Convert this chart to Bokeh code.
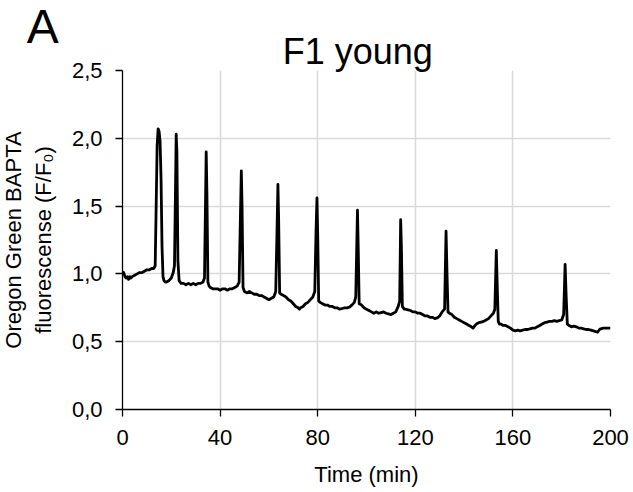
from bokeh.plotting import figure
from bokeh.models import Range1d, FixedTicker, Title
from bokeh.embed import file_html
from bokeh.resources import INLINE

# ---- data ----
time_min = [0, 0.5, 1, 1.5, 2, 2.5, 3, 3.5, 4, 5, 6, 7, 8, 9, 10, 11, 12, 12.8, 13.4, 13.8, 14.2, 14.6,
            15.0, 15.4, 15.8, 16.2, 16.6, 17.0, 17.5, 18, 19, 20, 20.8, 21.3, 21.7, 22.0, 22.3, 22.7, 23.2,
            24, 25, 26, 27, 28, 29, 30, 31, 32, 33, 33.6, 34.0, 34.3, 34.6, 35.0, 35.5, 36, 37, 38, 39, 40,
            41, 42, 43, 44, 45, 46, 47, 47.8, 48.3, 48.7, 49.0, 49.4, 50, 51, 52, 53, 54, 55, 56, 57, 58,
            59, 60, 61, 62, 62.8, 63.3, 63.7, 64.0, 64.4, 65, 66, 67, 68, 69, 70, 71, 72, 72.5, 73, 74, 75,
            76, 77, 78, 78.8, 79.3, 79.7, 80.0, 80.4, 81, 82, 83, 84, 85, 86, 87, 88, 89, 90, 91, 92, 93,
            94, 95, 95.6, 96.0, 96.3, 96.6, 97.0, 98, 99, 100, 101, 102, 103, 104, 105, 106, 107, 108, 109,
            110, 111, 112, 113, 113.6, 114.0, 114.3, 114.7, 115.5, 116, 117, 118, 119, 120, 121, 122, 123,
            124, 125, 126, 127, 128, 129, 130, 131, 132, 132.6, 133.0, 133.4, 134, 135, 136, 137, 138, 139,
            140, 141, 142, 143, 143.7, 144.5, 145, 146, 147, 148, 149, 150, 151, 152, 152.6, 153.2, 153.6,
            154.0, 154.5, 155, 156, 157, 158, 159, 160, 161, 162, 163, 164, 165, 166, 167, 168, 169, 170,
            171, 172, 173, 174, 175, 176, 177, 178, 179, 180, 180.8, 181.4, 181.8, 182.3, 183, 184, 185,
            186, 187, 188, 189, 190, 191, 192, 193, 194, 194.7, 195.5, 196, 197, 198, 199, 200]

fluorescence = [1.00, 1.01, 0.98, 0.97, 0.98, 0.96, 0.98, 0.97, 0.98, 0.99, 1.00, 1.01, 1.01, 1.02, 1.03, 1.03,
                1.04, 1.04, 1.06, 1.50, 1.95, 2.07, 2.05, 1.98, 1.70, 1.20, 0.98, 0.95, 0.94, 0.94, 0.95,
                0.97, 1.01, 1.06, 1.60, 2.03, 1.90, 1.10, 0.95, 0.93, 0.93, 0.92, 0.93, 0.92, 0.93, 0.92,
                0.93, 0.93, 0.94, 0.97, 1.50, 1.90, 1.60, 0.94, 0.91, 0.90, 0.89, 0.89, 0.89, 0.88, 0.89,
                0.89, 0.88, 0.89, 0.89, 0.90, 0.91, 0.94, 1.40, 1.76, 1.50, 0.90, 0.87, 0.86, 0.87, 0.86,
                0.85, 0.85, 0.84, 0.84, 0.83, 0.82, 0.81, 0.82, 0.83, 0.87, 1.30, 1.66, 1.40, 0.86, 0.85,
                0.84, 0.83, 0.81, 0.80, 0.78, 0.76, 0.75, 0.74, 0.75, 0.76, 0.78, 0.79, 0.81, 0.83, 0.87,
                1.30, 1.56, 1.30, 0.80, 0.79, 0.78, 0.77, 0.77, 0.76, 0.76, 0.75, 0.75, 0.74, 0.745, 0.75,
                0.75, 0.755, 0.77, 0.79, 0.83, 1.20, 1.47, 1.20, 0.78, 0.77, 0.75, 0.74, 0.73, 0.72, 0.71,
                0.72, 0.71, 0.715, 0.72, 0.71, 0.705, 0.70, 0.71, 0.72, 0.76, 0.80, 1.40, 1.20, 0.76, 0.74,
                0.74, 0.735, 0.73, 0.72, 0.72, 0.71, 0.71, 0.70, 0.69, 0.69, 0.68, 0.68, 0.67, 0.675, 0.69,
                0.72, 0.74, 1.315, 1.00, 0.72, 0.71, 0.70, 0.68, 0.67, 0.66, 0.65, 0.64, 0.63, 0.62, 0.61,
                0.60, 0.62, 0.63, 0.64, 0.645, 0.65, 0.66, 0.67, 0.69, 0.71, 0.74, 1.174, 0.90, 0.65, 0.63,
                0.63, 0.62, 0.62, 0.61, 0.60, 0.585, 0.58, 0.585, 0.58, 0.585, 0.59, 0.59, 0.595, 0.60, 0.60,
                0.61, 0.62, 0.63, 0.64, 0.645, 0.65, 0.65, 0.655, 0.65, 0.655, 0.66, 0.70, 1.07, 0.85, 0.63,
                0.62, 0.61, 0.615, 0.61, 0.60, 0.60, 0.595, 0.59, 0.59, 0.585, 0.58, 0.575, 0.57, 0.59,
                0.595, 0.60, 0.60, 0.60, 0.60]

x_ticks = [0, 40, 80, 120, 160, 200]
y_ticks = [0.0, 0.5, 1.0, 1.5, 2.0, 2.5]
y_tick_labels = ["0,0", "0,5", "1,0", "1,5", "2,0", "2,5"]

title_text = "F1 young"
panel_text = "A"
x_label = "Time (min)"
y_label_outer = "Oregon Green BAPTA"
y_label_inner = "fluorescense (F/F\u2080)"

FONT = "Liberation Sans"

p = figure(width=633, height=492, output_backend="svg", toolbar_location=None,
           x_range=Range1d(0, 200), y_range=Range1d(0, 2.5),
           min_border_left=122, min_border_right=23, min_border_top=70, min_border_bottom=83)
p.outline_line_color = None
p.background_fill_color = "white"
p.border_fill_color = "white"

p.line(time_min, fluorescence, line_color="black", line_width=2.8, line_join="round")

for ax in (p.xaxis[0], p.yaxis[0]):
    ax.axis_line_color = "black"
    ax.axis_line_width = 1.3
    ax.major_tick_line_color = "black"
    ax.major_tick_line_width = 1.3
    ax.major_tick_out = 7
    ax.major_tick_in = 0
    ax.minor_tick_line_color = None
    ax.major_label_text_font = FONT
    ax.major_label_text_font_size = "22px"
    ax.major_label_text_color = "black"
    ax.major_label_standoff = 13
    ax.axis_label_text_font = FONT
    ax.axis_label_text_font_style = "normal"
    ax.axis_label_text_font_size = "22px"
    ax.axis_label_text_color = "black"

p.xaxis.ticker = FixedTicker(ticks=x_ticks)
p.yaxis.ticker = FixedTicker(ticks=y_ticks)
p.yaxis.major_label_overrides = dict(zip(y_ticks, y_tick_labels))

p.xaxis.axis_label = x_label
p.xaxis.axis_label_standoff = 14
p.yaxis.axis_label = y_label_inner
p.yaxis.axis_label_standoff = 13

p.xgrid.grid_line_color = "#d9d9d9"
p.xgrid.grid_line_width = 1.5
p.ygrid.grid_line_color = "#d9d9d9"
p.ygrid.grid_line_width = 1.5

# outer line of the y label
p.add_layout(Title(text=y_label_outer, align="center", vertical_align="top", standoff=0,
                   text_font=FONT, text_font_size="22px", text_font_style="normal",
                   text_color="black"), "left")

# chart title, then panel letter (stacked outward)
p.add_layout(Title(text=title_text, align="left", offset=160.2, vertical_align="bottom", standoff=-2,
                   text_font=FONT, text_font_size="36px", text_font_style="normal",
                   text_color="black"), "above")
p.add_layout(Title(text=panel_text, align="left", offset=-95.8, vertical_align="bottom", standoff=-46,
                   text_font=FONT, text_font_size="48px", text_font_style="normal",
                   text_color="black"), "above")

open("out.html", "w").write(file_html(p, INLINE))
